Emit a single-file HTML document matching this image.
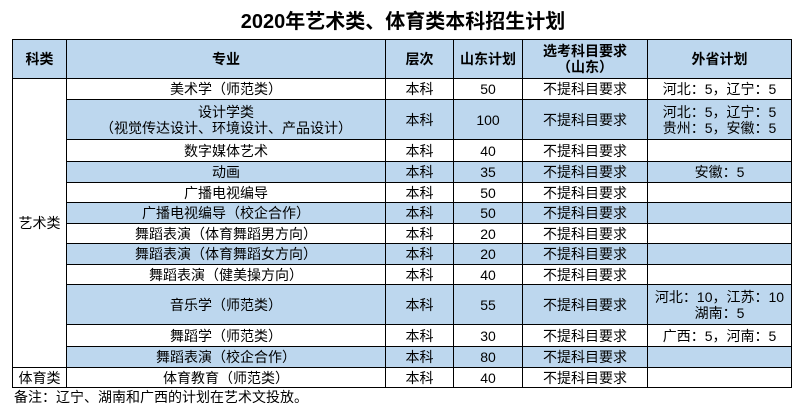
<!DOCTYPE html>
<html><head><meta charset="utf-8"><style>
body{margin:0;width:806px;height:409px;background:#fff;font-family:"Liberation Sans","Noto Sans CJK SC",sans-serif;position:relative;overflow:hidden;color:#000}
.c{position:absolute;box-sizing:border-box;border:1px solid #000;display:flex;align-items:center;justify-content:center;text-align:center;font-size:14px;line-height:16px;margin:0;white-space:nowrap}
.b{background:#bdd7ee}
.h{font-weight:bold;font-size:14px}
.t{position:absolute;left:0;width:806px;top:5px;text-align:center;font-size:20px;font-weight:bold}
.n{position:absolute;left:14px;top:387px;font-size:14px}
</style></head><body>
<div class="t">2020年艺术类、体育类本科招生计划</div>
<div id="g"></div>
<div class="n">备注：辽宁、湖南和广西的计划在艺术文投放。</div>
<script>
var X=[12,66,385,453,522,647,791];
var Y=[39,78,99,139,161,182,202,223,243,264,284,324,346,367,387];
var rows=[
["美术学（师范类）","50","河北：5，辽宁：5"],
["设计学类<br>（视觉传达设计、环境设计、产品设计）","100","河北：5，辽宁：5<br>贵州：5，安徽：5"],
["数字媒体艺术","40",""],
["动画","35","安徽：5"],
["广播电视编导","50",""],
["广播电视编导（校企合作）","50",""],
["舞蹈表演（体育舞蹈男方向）","20",""],
["舞蹈表演（体育舞蹈女方向）","20",""],
["舞蹈表演（健美操方向）","40",""],
["音乐学（师范类）","55","河北：10，江苏：10<br>湖南：5"],
["舞蹈学（师范类）","30","广西：5，河南：5"],
["舞蹈表演（校企合作）","80",""],
["体育教育（师范类）","40",""]];
var h="";
function cell(x0,x1,y0,y1,txt,cls){h+='<div class="c '+cls+'" style="left:'+x0+'px;top:'+y0+'px;width:'+(x1-x0+1)+'px;height:'+(y1-y0+1)+'px">'+txt+'</div>';}
var hd=["科类","专业","层次","山东计划","选考科目要求<br>（山东）","外省计划"];
for(var i=0;i<6;i++)cell(X[i],X[i+1],Y[0],Y[1],hd[i],"b h");
cell(X[0],X[1],Y[1],Y[13],"艺术类","");
cell(X[0],X[1],Y[13],Y[14],"体育类","");
for(var r=0;r<13;r++){var cl=(r%2==1)?"b":"";var d=rows[r];
var v=[d[0],"本科",d[1],"不提科目要求",d[2]];
for(var j=0;j<5;j++)cell(X[j+1],X[j+2],Y[r+1],Y[r+2],v[j],cl);}
document.getElementById("g").innerHTML=h;
</script>
</body></html>
